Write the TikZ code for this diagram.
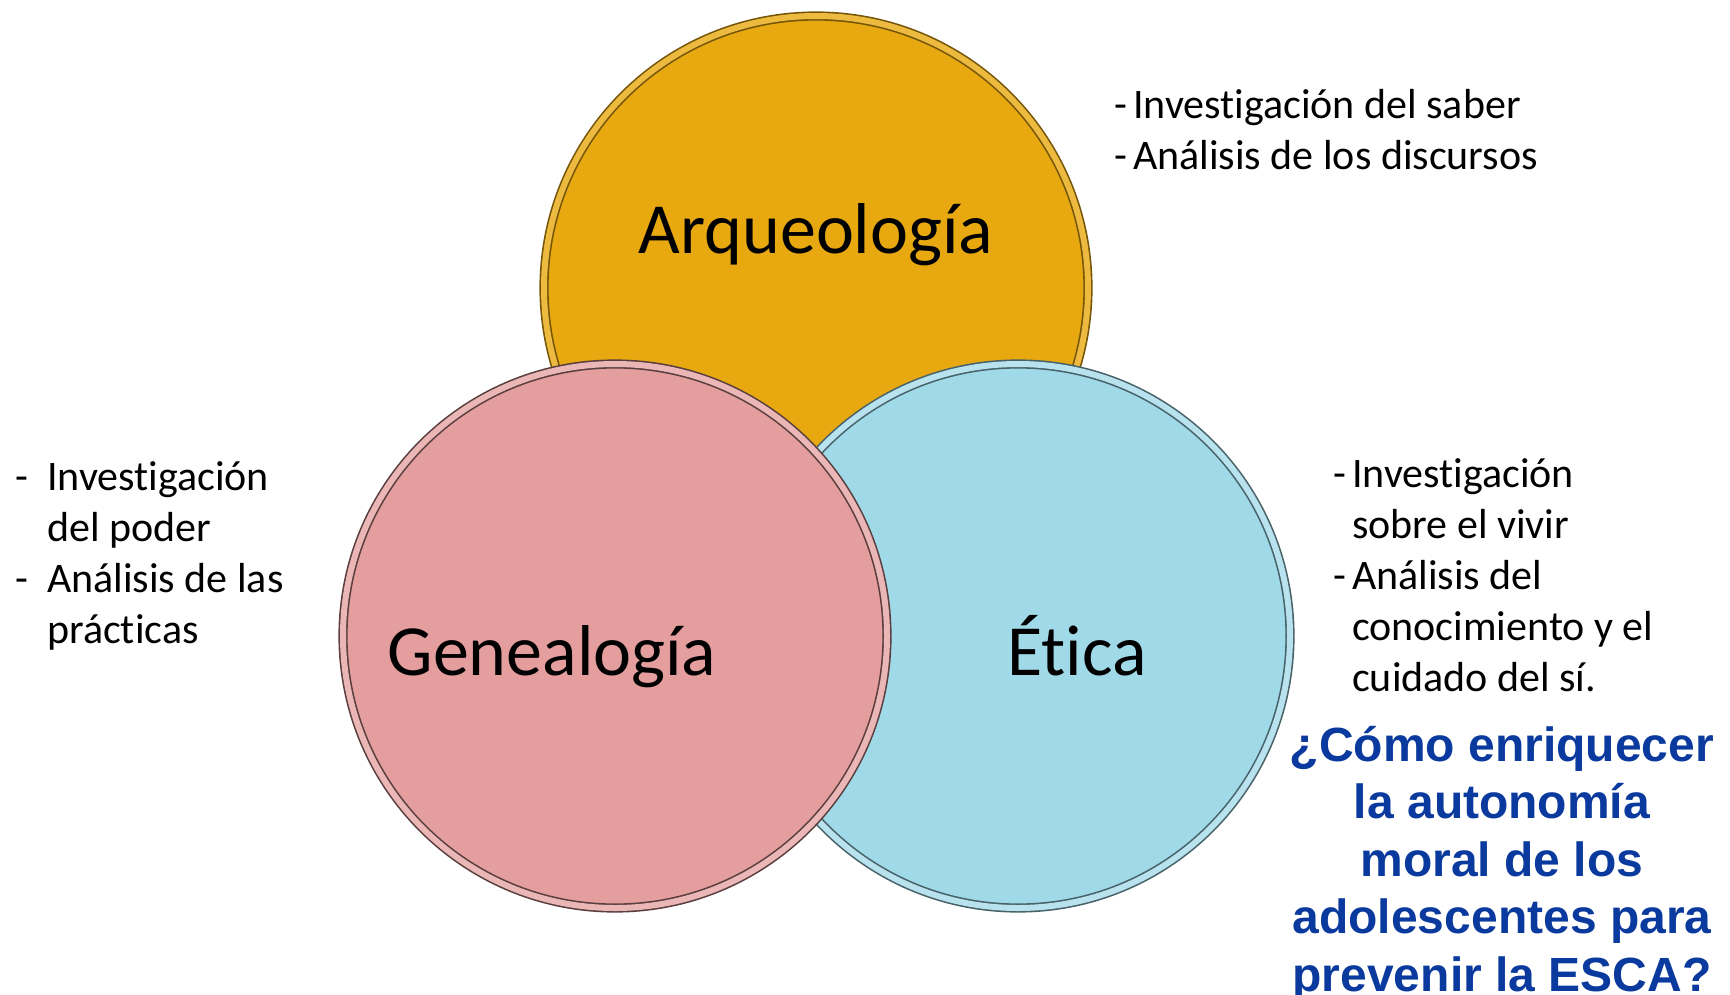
\documentclass[tikz,border=0pt]{standalone}
\usepackage{fontspec}
\setmainfont{Carlito}[Ligatures=NoCommon]
\newfontfamily\qfont{Liberation Sans}
\usepackage{tikz}
\usetikzlibrary{positioning}
\definecolor{arqfill}{RGB}{232,169,16}
\definecolor{genfill}{RGB}{228,158,158}
\definecolor{etifill}{RGB}{160,218,233}
\definecolor{qblue}{RGB}{10,58,158}
\tikzset{
  disc/.style  = {circle, minimum size=544pt, inner sep=0pt,
                  line width=1.6pt, double distance=6pt},
  title/.style = {font=\fontsize{72}{86}\selectfont, inner sep=0pt},
  notes/.style = {font=\fontsize{42}{51}\selectfont, align=left,
                  anchor=base west, inner sep=0pt},
}
\newcommand{\dashitem}[1]{\llap{-\hspace{#1}}}

\begin{document}
\begin{tikzpicture}[x=1pt, y=-1pt,
  question/.style={font=\qfont\bfseries\fontsize{48}{57.5}\selectfont,
                   text=qblue, align=center, anchor=base, inner sep=0pt}
]
\useasboundingbox (0,0) rectangle (1730,994);
% the three circles, back to front
\node[disc, fill=arqfill, draw=arqfill!50!black, double=arqfill!80!white] (arq) at (816,288) {};
\node[disc, fill=etifill, draw=etifill!45!black, double=etifill!75!white] (eti) at (1018,636) {};
\node[disc, fill=genfill, draw=genfill!40!black, double=genfill!75!white] (gen) at (615,636) {};
% circle titles
\node[title, anchor=base] (arqtxt) at (816,253) {Arqueología};
\node[title, anchor=base] (gentxt) at (552,675) {Genealogía};
\node[title, anchor=base] (etitxt) at (1077,675) {Ética};
% notes (base = last line)
\node[notes] (arqnotes) at (1133,169)
  {\dashitem{6pt}Investigación del saber\\
   \dashitem{6pt}Análisis de los discursos};
\node[notes] (gennotes) at (47,643)
  {\dashitem{19pt}Investigación\\
   del poder\\
   \dashitem{19pt}Análisis de las\\
   prácticas};
\node[notes] (etinotes) at (1352,691)
  {\dashitem{6pt}Investigación\\
   sobre el vivir\\
   \dashitem{6pt}Análisis del\\
   conocimiento y el\\
   cuidado del sí.};
% research question
\node[question] (quest) at (1502,991)
  {¿Cómo enriquecer\\
   la autonomía\\
   moral de los\\
   adolescentes para\\
   prevenir la ESCA?};
\end{tikzpicture}
\end{document}
